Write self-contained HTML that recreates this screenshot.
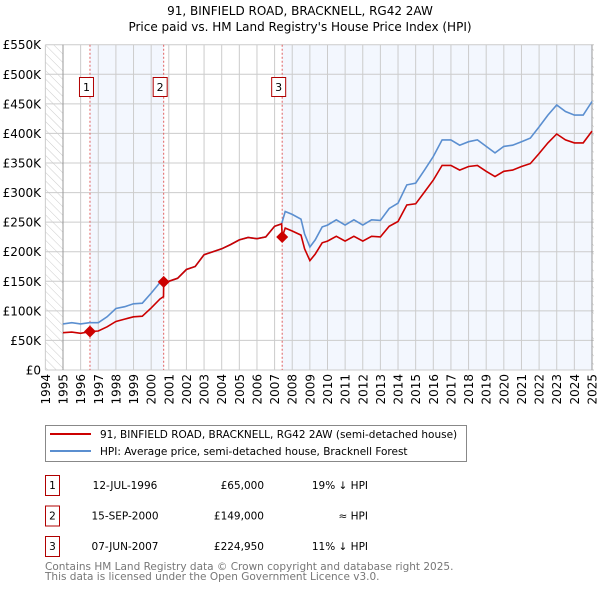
<!DOCTYPE html>
<html><head><meta charset="utf-8"><style>
body{margin:0;background:#fff;font-family:"DejaVu Sans","Liberation Sans",sans-serif;}
svg text{font-family:"DejaVu Sans","Liberation Sans",sans-serif;}
</style></head><body>
<svg id="c" width="600" height="590" xmlns="http://www.w3.org/2000/svg">
<defs><pattern id="hatch" width="6" height="6" patternUnits="userSpaceOnUse" patternTransform="rotate(-45)"><line x1="0" y1="0" x2="0" y2="6" stroke="#ccc" stroke-width="1"/></pattern></defs>
<text x="300" y="15" text-anchor="middle" font-size="12">91, BINFIELD ROAD, BRACKNELL, RG42 2AW</text>
<text x="300" y="31" text-anchor="middle" font-size="12">Price paid vs. HM Land Registry's House Price Index (HPI)</text>
<g id="plot"></g>
<g>
<rect x="45.5" y="425.5" width="421" height="36" fill="#fff" stroke="#888"/>
<line x1="50" y1="434" x2="91" y2="434" stroke="#cc0000" stroke-width="2"/>
<text x="100" y="438" font-size="10.5">91, BINFIELD ROAD, BRACKNELL, RG42 2AW (semi-detached house)</text>
<line x1="50" y1="451" x2="91" y2="451" stroke="#5b8fd0" stroke-width="2"/>
<text x="100" y="455" font-size="10.5">HPI: Average price, semi-detached house, Bracknell Forest</text>
</g>
<g id="tbl" font-size="10.5"></g>
<text x="45" y="570" font-size="10.5" fill="#777">Contains HM Land Registry data © Crown copyright and database right 2025.</text>
<text x="45" y="580" font-size="10.5" fill="#777">This data is licensed under the Open Government Licence v3.0.</text>
</svg>
<script>
const hpiDates=[1995,1995.5,1996,1996.5,1997,1997.5,1998,1998.5,1999,1999.5,2000,2000.5,2000.7,2001,2001.5,2002,2002.5,2003,2003.5,2004,2004.5,2005,2005.5,2006,2006.5,2007,2007.4,2007.6,2008,2008.5,2008.7,2009,2009.3,2009.7,2010,2010.5,2011,2011.5,2012,2012.5,2013,2013.5,2014,2014.5,2015,2015.5,2016,2016.5,2017,2017.5,2018,2018.5,2019,2019.5,2020,2020.5,2021,2021.5,2022,2022.5,2023,2023.5,2024,2024.5,2025];
const hpiValues=[78,80,78,80,80,90,104,107,112,113,130,148,150,150,155,170,175,195,200,205,212,220,224,222,225,243,247,268,263,255,230,208,220,242,245,254,245,254,245,254,253,273,282,313,316,338,361,389,389,380,386,389,378,367,378,380,386,392,411,431,448,437,431,431,454];
const priceDates=[1995,1995.5,1996,1996.53,1997,1997.5,1998,1998.5,1999,1999.5,2000,2000.5,2000.70,2000.71,2001,2001.5,2002,2002.5,2003,2003.5,2004,2004.5,2005,2005.5,2006,2006.5,2007,2007.40,2007.43,2007.6,2008,2008.5,2008.7,2009,2009.3,2009.7,2010,2010.5,2011,2011.5,2012,2012.5,2013,2013.5,2014,2014.5,2015,2015.5,2016,2016.5,2017,2017.5,2018,2018.5,2019,2019.5,2020,2020.5,2021,2021.5,2022,2022.5,2023,2023.5,2024,2024.5,2025];
const priceValues=[63,64,62,65,66,73,82,86,90,91,105,120,124,149,150,155,170,175,195,200,205,212,220,224,222,225,243,247,225,240,235,228,205,185,196,215,218,226,218,226,218,226,225,243,251,279,281,301,321,346,346,338,344,346,336,327,336,338,344,349,366,384,399,389,384,384,404];
const saleDates=[1996.53,2000.71,2007.43];
const saleValues=[65,149,224.95];
const saleLabels=["1","2","3"];
const saleDateText=["12-JUL-1996","15-SEP-2000","07-JUN-2007"];
const salePriceText=["£65,000","£149,000","£224,950"];
const saleHpiText=["19% ↓ HPI","≈ HPI","11% ↓ HPI"];
const yTicks=[0,50,100,150,200,250,300,350,400,450,500,550];
const yTickLabels=["£0","£50K","£100K","£150K","£200K","£250K","£300K","£350K","£400K","£450K","£500K","£550K"];
const xTicks=[1994,1995,1996,1997,1998,1999,2000,2001,2002,2003,2004,2005,2006,2007,2008,2009,2010,2011,2012,2013,2014,2015,2016,2017,2018,2019,2020,2021,2022,2023,2024,2025];

const L=45.4,R=594,T=44.7,B=370;
const X=d=>63+(d-1995)*17.633;
const Y=v=>B-v*(B-T)/550;
const NS='http://www.w3.org/2000/svg';
const g=document.getElementById('plot');
function mk(t,a,p){const e=document.createElementNS(NS,t);for(const k in a)e.setAttribute(k,a[k]);(p||g).appendChild(e);return e;}
let e;
e=mk('rect',{x:L,y:T,width:R-L,height:B-T,fill:'#fff'});


e=mk('rect',{x:X(saleDates[0]),y:T,width:X(saleDates[1])-X(saleDates[0]),height:B-T,fill:'#f3f7fe'});


e=mk('rect',{x:X(saleDates[2]),y:T,width:X(2025)-X(saleDates[2]),height:B-T,fill:'#f3f7fe'});


e=mk('rect',{x:L,y:T,width:X(1995)-L,height:B-T,fill:'url(#hatch)'});


e=mk('rect',{x:X(2025),y:T,width:R-X(2025),height:B-T,fill:'url(#hatch)'});


yTicks.forEach((v,i)=>{
 e=mk('line',{x1:L,x2:R,y1:Y(v),y2:Y(v),stroke:'#ccc','stroke-width':1});
 
 
 e=mk('text',{x:41,y:Y(v)+4.5,'text-anchor':'end','font-size':12});
 e.textContent=yTickLabels[i];
 
 
});
xTicks.forEach(d=>{
 e=mk('line',{x1:X(d),x2:X(d),y1:T,y2:B,stroke:'#ccc','stroke-width':1});
 
 
 e=mk('text',{x:0,y:0,'text-anchor':'end','font-size':12,transform:`translate(${X(d)+4.5},374) rotate(-90)`});
 e.textContent=d;
 
 
});
e=mk('line',{x1:X(1995),x2:X(1995),y1:T,y2:B,stroke:'#999'});


e=mk('line',{x1:X(2025),x2:X(2025),y1:T,y2:B,stroke:'#999'});


saleDates.forEach((d,i)=>{
 e=mk('line',{x1:X(d),x2:X(d),y1:T,y2:B,stroke:'#e06060','stroke-width':1,'stroke-dasharray':'2,2'});
 
 
 e=mk('rect',{x:X(d)-10.5,y:77.5,width:14,height:19,fill:'#fff',stroke:'#b00000'});
 
 
 e=mk('text',{x:X(d)-3.5,y:91,'text-anchor':'middle','font-size':11});
 e.textContent=saleLabels[i];
 
 
});
const path=(ds,vs)=>ds.map((d,i)=>(i?'L':'M')+X(d).toFixed(1)+','+Y(vs[i]).toFixed(1)).join('');
e=mk('path',{d:path(hpiDates,hpiValues),fill:'none',stroke:'#5b8fd0','stroke-width':1.6});


e=mk('path',{d:path(priceDates,priceValues),fill:'none',stroke:'#cc0000','stroke-width':1.6});


saleDates.forEach((d,i)=>{
 const x=X(d),y=Y(saleValues[i]);
 e=mk('polygon',{points:`${x},${y-6} ${x+6},${y} ${x},${y+6} ${x-6},${y}`,fill:'#cc0000'});
 
 
});
const tb=document.getElementById('tbl');
saleDates.forEach((d,i)=>{
 const y=475+i*30.5;
 e=mk('rect',{x:45.5,y:y+0.5,width:14,height:20,fill:'#fff',stroke:'#b00000'},tb);
 
 
 e=mk('text',{x:52.5,y:y+14,'text-anchor':'middle'},tb);e.textContent=saleLabels[i];
 
 
 e=mk('text',{x:125,y:y+14,'text-anchor':'middle'},tb);e.textContent=saleDateText[i];
 
 
 e=mk('text',{x:264,y:y+14,'text-anchor':'end'},tb);e.textContent=salePriceText[i];
 
 
 e=mk('text',{x:368,y:y+14,'text-anchor':'end'},tb);e.textContent=saleHpiText[i];
 
 
});
</script>
</body></html>
